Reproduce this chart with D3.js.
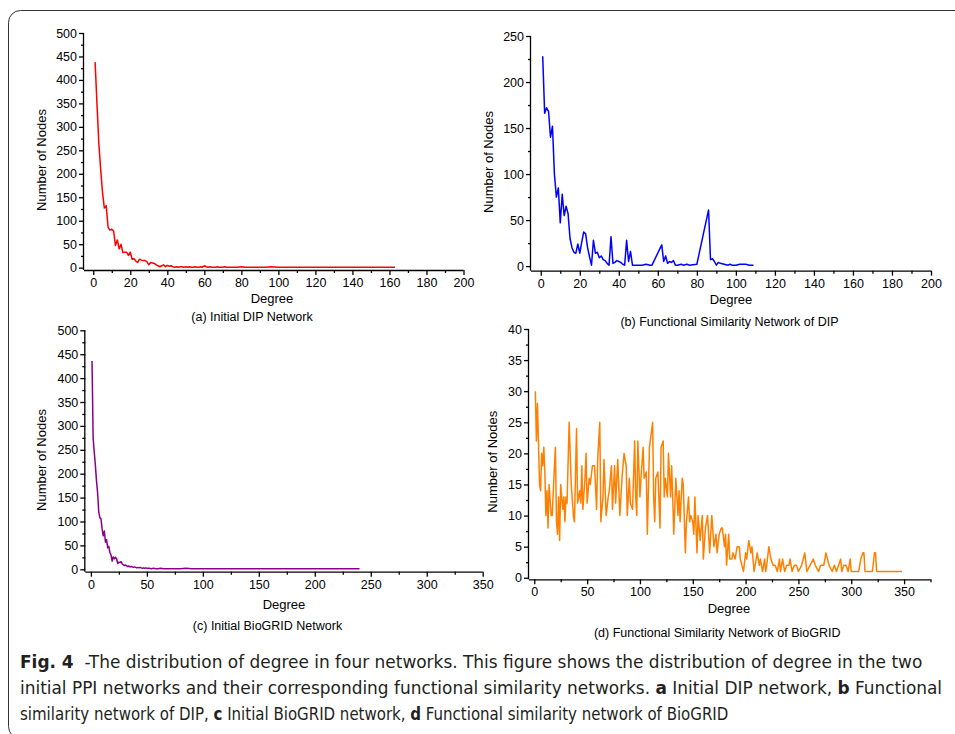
<!DOCTYPE html>
<html>
<head>
<meta charset="utf-8">
<script src="https://cdn.jsdelivr.net/npm/d3@7"></script>
<style>
  body { margin: 0; background: #fff; }
  svg { display: block; }
  .tick text { font-family: "Liberation Sans", Arial, sans-serif; }
</style>
</head>
<body>
<svg id="fig" width="955" height="734"></svg>
<script>
// (a) Initial DIP network
var aDegree = [1,2,3,4,5,6,7,8,9,10,11,12,13,14,15,16,17,18,19,20,21,22,23,24,25,26,27,28,29,30,
  31,32,33,34,35,36,37,38,39,40,41,42,43,44,45,46,47,48,49,50,51,52,53,54,55,56,57,58,59,60,
  61,62,63,64,65,66,67,68,70,71,72,74,76,78,80,82,85,88,90,93,96,100,104,110,115,120,128,135,142,150,163];
var aCount = [438,350,265,210,160,127,132,86,80,82,78,47,59,40,50,32,33,33,26,33,18,19,14,11,18,16,15,15,13,6,
  11,10,9,6,4,2,4,6,2,5,3,4,2,1,2,1,2,2,1,2,1,2,1,1,2,1,1,2,1,4,
  2,1,2,1,1,1,2,1,1,2,1,1,1,1,2,1,1,1,1,1,2,1,1,1,1,1,1,1,1,1,1];

// (b) Functional similarity network of DIP
var bDegree = [1,2,3,4,5,6,7,8,9,10,11,12,13,14,15,16,17,18,19,20,21,22,23,24,25,26,27,28,29,30,
  31,32,33,34,35,36,37,38,39,40,41,42,43,44,45,46,47,48,50,52,54,56,57,62,63,64,65,66,67,68,
  69,70,72,73,75,76,80,86,87,88,89,90,91,92,94,96,97,98,100,102,105,107,109];
var bCount = [228,166,172,168,140,152,100,75,85,47,78,55,65,57,30,20,15,14,24,14,26,37,35,20,10,1,28,14,15,9,
  11,7,6,3,1,32,3,4,6,5,4,2,1,28,5,16,1,1,1,1,2,1,1,23,5,11,3,5,4,6,
  1,1,2,1,2,1,2,61,7,8,5,1,4,3,2,1,2,1,1,2,2,1,1];

// (c) Initial BioGRID network
var cDegree = [1,2,3,4,5,6,7,8,9,10,11,12,13,14,15,16,17,18,19,20,21,22,23,24,25,26,27,28,29,30,
  31,32,33,34,35,36,37,38,39,40,41,42,43,44,45,46,47,48,49,50,52,54,56,58,60,62,65,68,70,75,
  80,85,90,100,110,120,130,150,170,200,220,240];
var cCount = [436,275,245,218,185,160,120,108,106,85,70,80,57,62,45,48,35,30,17,26,22,25,22,12,15,14,16,11,9,8,
  9,7,6,7,5,6,5,4,5,4,3,4,3,4,3,2,3,2,3,2,2,1,2,1,1,2,1,1,1,1,
  1,2,1,1,1,1,1,1,1,1,1,1];

// (d) Functional similarity network of BioGRID
var dDegree = [1,2,3,5,6,7,8,9,10,11,12,13,14,16,17,18,20,21,22,23,24,25,27,28,29,30,31,33,35,37,
  38,40,41,43,44,45,46,48,49,50,52,53,55,57,59,60,62,63,65,66,68,70,71,73,74,76,77,79,81,83,
  85,87,88,90,91,93,95,96,97,98,100,101,103,104,106,107,109,112,113,114,115,117,119,120,122,123,124,126,127,129,
  130,131,132,134,136,137,138,140,141,143,144,146,147,148,150,151,152,154,155,157,159,160,162,164,166,168,170,172,173,175,
  177,178,180,181,182,184,185,187,188,190,192,194,195,198,200,201,203,205,206,208,211,213,214,216,218,219,220,222,224,226,
  228,230,232,233,235,237,239,241,242,244,246,248,250,253,256,258,261,264,266,269,271,274,276,279,282,284,286,290,291,293,
  295,297,299,300,307,309,311,312,313,320,322,323,324,348];
var dCount = [30,22,28,15,14,20,18,21,17,10,14,8,15,10,10,14,21,9,7,13,6,15,11,13,9,13,12,25,15,10,
  9,24,12,14,12,18,11,16,20,12,16,15,18,18,11,19,25,9,13,19,10,13,14,18,11,18,12,19,10,16,
  20,18,10,16,12,11,22,13,10,22,13,16,21,16,17,7,21,25,13,9,16,17,8,21,22,13,16,13,20,13,
  18,13,7,16,10,14,9,16,15,4,9,13,9,10,9,7,13,4,10,6,10,3,8,10,4,10,5,7,4,7,
  8,8,5,7,2,7,3,3,4,3,5,5,3,1,4,3,6,4,5,1,4,2,3,1,3,1,2,5,3,2,
  2,1,3,1,3,1,2,2,3,1,2,2,1,2,4,1,2,3,2,1,2,2,4,2,1,2,1,3,1,2,
  2,1,3,1,1,3,4,4,1,1,4,4,1,1];

var panels = [
  { degree: aDegree, count: aCount, color: "#ff0000",
    xDomain: [-5, 200], xRange: [84, 463.5], yDomain: [-5, 500], yRange: [270, 33],
    xMajor: d3.range(0, 201, 20), xMinor: d3.range(10, 200, 20),
    yMajor: d3.range(0, 501, 50), yMinor: d3.range(25, 500, 50),
    yLabel: [41, 160], xLabel: [272, 302.5], title: "(a) Initial DIP Network", titlePos: [252, 321] },
  { degree: bDegree, count: bCount, color: "#0000ff",
    xDomain: [-5, 200], xRange: [531, 931], yDomain: [-5, 250], yRange: [270.7, 36],
    xMajor: d3.range(0, 201, 20), xMinor: d3.range(10, 200, 20),
    yMajor: d3.range(0, 251, 50), yMinor: d3.range(25, 250, 50),
    yLabel: [488, 162], xLabel: [731, 304], title: "(b) Functional Similarity Network of DIP", titlePos: [729.5, 326] },
  { degree: cDegree, count: cCount, color: "#8b008b",
    xDomain: [-5, 350], xRange: [85.3, 482.7], yDomain: [-5, 500], yRange: [571.7, 330.3],
    xMajor: d3.range(0, 351, 50), xMinor: d3.range(25, 350, 50),
    yMajor: d3.range(0, 501, 50), yMinor: d3.range(25, 500, 50),
    yLabel: [41.7, 460], xLabel: [284, 609.3], title: "(c) Initial BioGRID Network", titlePos: [267.5, 630.3] },
  { degree: dDegree, count: dCount, color: "#ff8000",
    xDomain: [-5, 375], xRange: [529, 930.5], yDomain: [-0.25, 40], yRange: [579.3, 329],
    xMajor: d3.range(0, 351, 50), xMinor: d3.range(25, 376, 50),
    yMajor: d3.range(0, 41, 5), yMinor: d3.range(2.5, 40, 5),
    yLabel: [492.7, 461.7], xLabel: [729, 612.6], title: "(d) Functional Similarity Network of BioGRID", titlePos: [717.2, 637] }
];

var captionLines = [
  [["Fig. 4", true], ["  -The distribution of degree in four networks. This figure shows the distribution of degree in the two", false]],
  [["initial PPI networks and their corresponding functional similarity networks. ", false], ["a", true], [" Initial DIP network, ", false], ["b", true], [" Functional", false]],
  [["similarity network of DIP, ", false], ["c", true], [" Initial BioGRID network, ", false], ["d", true], [" Functional similarity network of BioGRID", false]]
];
var captionWidths = [903, 923, 709];

var svg = d3.select("#fig");
var font = '"Liberation Sans", Arial, sans-serif';

// frame
svg.append("rect")
  .attr("x", 8.5).attr("y", 10.5)
  .attr("width", 1000).attr("height", 728)
  .attr("rx", 12)
  .style("fill", "none").style("stroke", "#333").style("stroke-width", 1);

panels.forEach(function(p) {
  var x = d3.scaleLinear().domain(p.xDomain).range(p.xRange);
  var y = d3.scaleLinear().domain(p.yDomain).range(p.yRange);
  var g = svg.append("g");
  var y0 = p.yRange[0], x0 = p.xRange[0];

  // x axis: minor then major
  g.append("g").attr("transform", "translate(0," + y0 + ")")
    .call(d3.axisBottom(x).tickValues(p.xMinor).tickSize(3).tickFormat(""))
    .call(s => s.select(".domain").remove());
  var xa = g.append("g").attr("transform", "translate(0," + y0 + ")")
    .call(d3.axisBottom(x).tickValues(p.xMajor).tickSize(5).tickSizeOuter(0).tickPadding(3));
  xa.select(".domain").attr("d", "M" + p.xRange[0] + ",0.5H" + p.xRange[1]);

  // y axis
  g.append("g").attr("transform", "translate(" + x0 + ",0)")
    .call(d3.axisLeft(y).tickValues(p.yMinor).tickSize(3).tickFormat(""))
    .call(s => s.select(".domain").remove());
  var ya = g.append("g").attr("transform", "translate(" + x0 + ",0)")
    .call(d3.axisLeft(y).tickValues(p.yMajor).tickSize(5).tickSizeOuter(0).tickPadding(2));
  ya.select(".domain").attr("d", "M-0.5," + p.yRange[0] + "V" + p.yRange[1]);

  g.selectAll(".domain, .tick line").style("stroke", "#000").style("stroke-width", 1.3);
  g.selectAll(".tick text").style("font-size", "12.5px").style("fill", "#000");

  // the series line
  var pts = p.degree.map(function(d, i) { return [d, p.count[i]]; });
  g.append("path")
    .datum(pts)
    .attr("d", d3.line().x(d => x(d[0])).y(d => y(d[1])))
    .style("fill", "none")
    .style("stroke", p.color)
    .style("stroke-width", 1.5)
    .style("stroke-linejoin", "round");

  g.append("text")
    .attr("transform", "translate(" + p.yLabel[0] + "," + p.yLabel[1] + ") rotate(-90)")
    .attr("text-anchor", "middle")
    .attr("dominant-baseline", "central")
    .style("font-family", font).style("font-size", "13px")
    .text("Number of Nodes");

  g.append("text")
    .attr("x", p.xLabel[0]).attr("y", p.xLabel[1])
    .attr("text-anchor", "middle")
    .style("font-family", font).style("font-size", "13px")
    .text("Degree");

  g.append("text")
    .attr("x", p.titlePos[0]).attr("y", p.titlePos[1])
    .attr("text-anchor", "middle")
    .style("font-family", font).style("font-size", "12.5px")
    .text(p.title);
});

// caption: natural width measured, then squeezed horizontally to the line width
captionLines.forEach(function(line, i) {
  var t = svg.append("text")
    .attr("xml:space", "preserve")
    .style("font-family", '"Liberation Sans Narrow", "DejaVu Sans Condensed", "Open Sans", sans-serif')
    .style("font-size", "18px")
    .style("fill", "#231f20");
  line.forEach(function(part) {
    t.append("tspan")
      .style("font-weight", part[1] ? "bold" : "normal")
      .text(part[0]);
  });
  var w = t.node().getComputedTextLength();
  t.attr("transform", "translate(20," + (668 + i * 26) + ") scale(" + (captionWidths[i] / w) + ",1)");
});
</script>
</body>
</html>
